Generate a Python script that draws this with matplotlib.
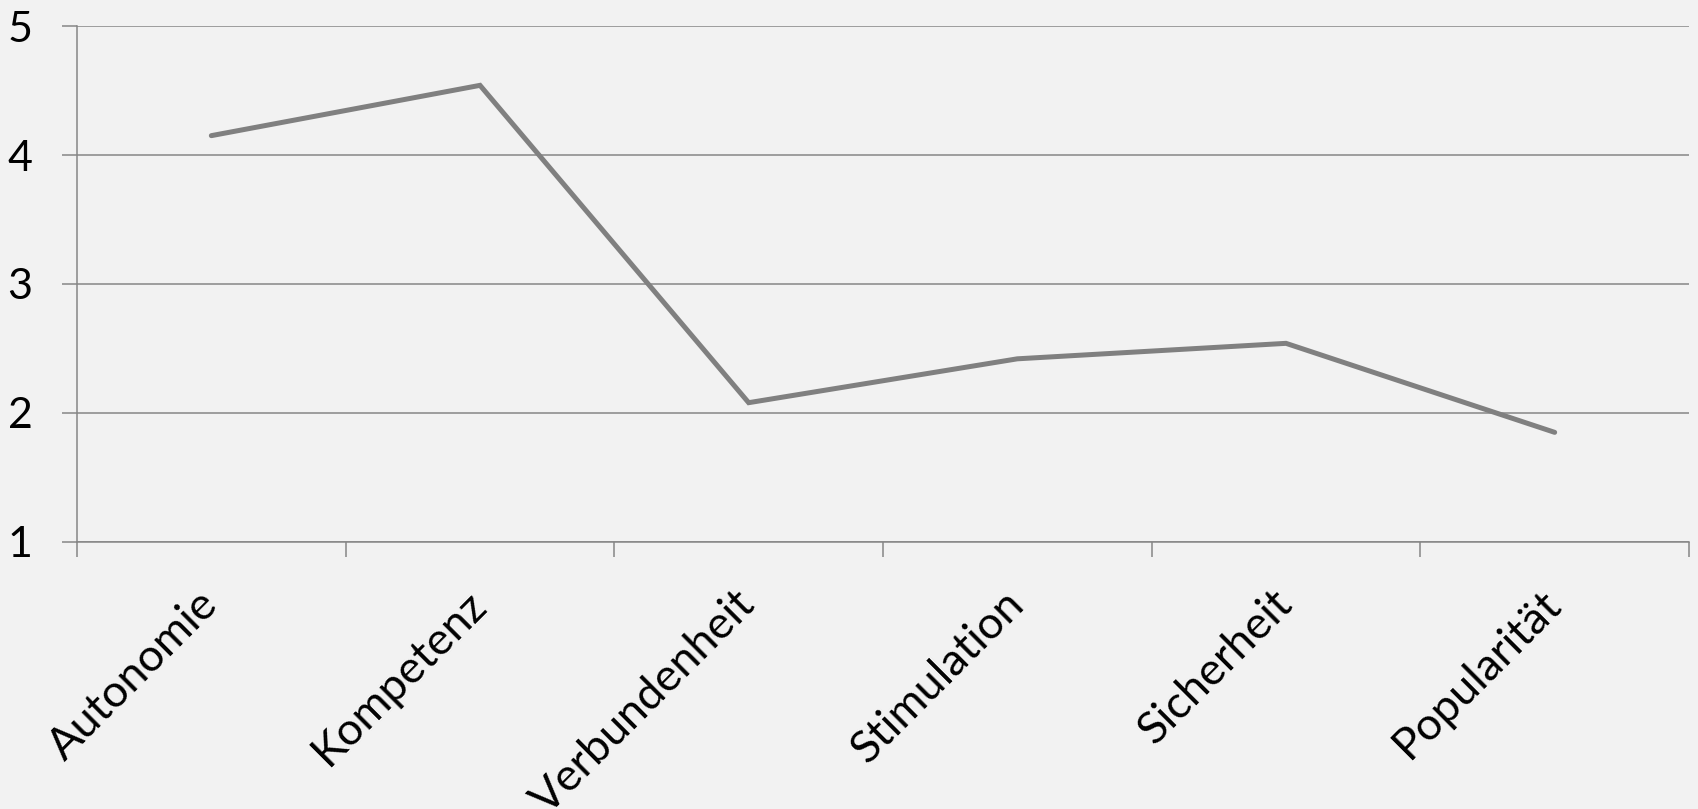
import matplotlib
matplotlib.use("Agg")
import matplotlib.pyplot as plt
import numpy as np

# mean scores per need
categories = ["Autonomie", "Kompetenz", "Verbundenheit", "Stimulation", "Sicherheit", "Popularität"]
scores = [4.15, 4.54, 2.08, 2.42, 2.54, 1.85]
y_ticks = [1, 2, 3, 4, 5]

bg = "#f2f2f2"
grid_col = "#868686"
line_col = "#808080"

plt.rcParams["font.family"] = ["Lato", "DejaVu Sans"]

fig = plt.figure(figsize=(16.98, 8.09), dpi=100, facecolor=bg)
ax = fig.add_axes([0.04535, 0.33004, 0.94935, 0.63782])
ax.set_facecolor(bg)

x = np.arange(len(categories)) + 0.5
ax.plot(x, scores, color=line_col, lw=3.6, solid_capstyle="round", solid_joinstyle="miter", zorder=3)

ax.set_xlim(0, len(categories))
ax.set_ylim(1, 5)

# horizontal gridlines
ax.set_yticks(y_ticks)
ax.set_yticklabels([str(v) for v in y_ticks], fontsize=31)
ax.yaxis.grid(True, color=grid_col, lw=1.1)
ax.set_axisbelow(True)

# category boundaries as major ticks, names at the centres
ax.set_xticks(np.arange(len(categories) + 1))
ax.set_xticklabels([])
ax.set_xticks(x, minor=True)
ax.set_xticklabels(categories, minor=True, fontsize=32.5, rotation=45,
                   ha="right", va="center", rotation_mode="anchor")
ax.tick_params(axis="x", which="minor", length=0, pad=40)
ax.tick_params(axis="x", which="major", length=11, width=1.1, color=grid_col)
ax.tick_params(axis="y", length=11, width=1.1, color=grid_col, pad=21)

for side in ["top", "right"]:
    ax.spines[side].set_visible(False)
for side in ["left", "bottom"]:
    ax.spines[side].set_color(grid_col)
    ax.spines[side].set_linewidth(1.1)

fig.savefig("out.png", dpi=100, facecolor=bg)
